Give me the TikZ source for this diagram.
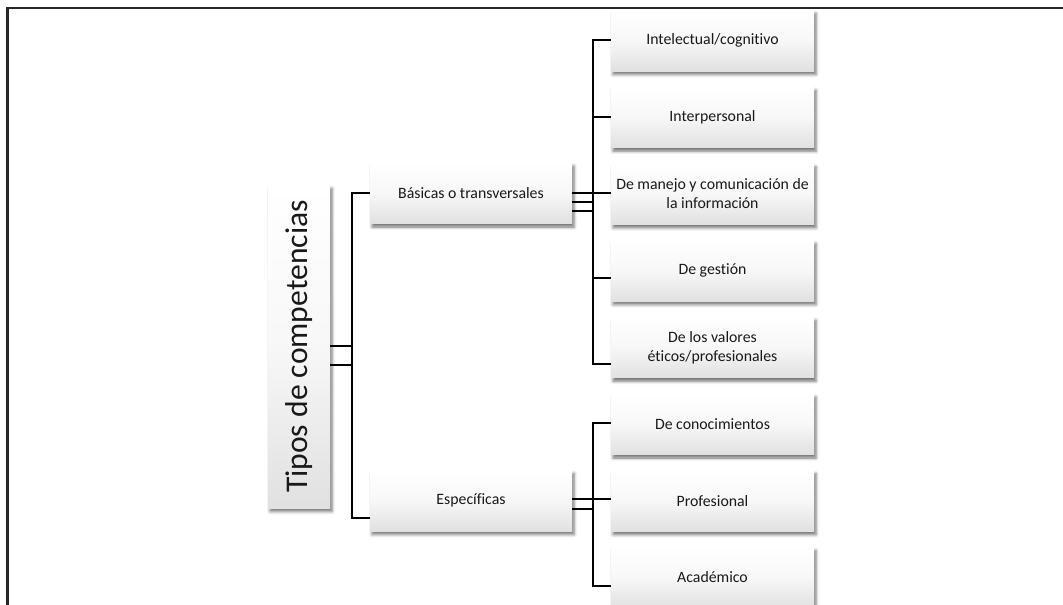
\documentclass[tikz,border=0pt]{standalone}
\usepackage{fontspec}
\setmainfont{Carlito}[Ligatures=NoCommon]
\usepackage{graphicx}
\usetikzlibrary{shadows.blur}

\tikzset{
  card/.style={
    rectangle, inner sep=0pt, align=center, text=black!90,
    top color=white, bottom color=black!12, middle color=white!97!black,
    blur shadow={shadow xshift=2pt, shadow yshift=-3.5pt,
                 shadow blur radius=3pt, shadow opacity=55},
    font=\fontsize{15.8}{19}\selectfont
  },
  leaf/.style={card, minimum width=203pt, minimum height=61pt},
  mid/.style={card, minimum width=202pt, minimum height=61pt},
  conn/.style={draw=black, line width=2.2pt}
}

\begin{document}
\begin{tikzpicture}[x=1pt, y=-1pt]
  \useasboundingbox (0,0) rectangle (1063,605);
  \clip (0,0) rectangle (1063,605);

  % page frame
  \draw[black!85, line width=2.2pt] (7.5,605) -- (7.5,8) -- (1063,8);

  % root
  \node[card, minimum width=62pt, minimum height=323pt] (root) at (299,346.5)
    {\fontsize{31.6}{38}\selectfont\rotatebox{90}{Tipos de competencias}};

  % first level
  \node[mid] (bas) at (471,193)   {Básicas o transversales};
  \node[mid] (esp) at (471,500.5) {Específicas};

  % second level
  \node[leaf] (int)   at (712.5,40.5)  {Intelectual/cognitivo};
  \node[leaf] (inter) at (712.5,117.2) {Interpersonal};
  \node[leaf] (man)   at (712.5,193.9) {De manejo y comunicación de\\la información};
  \node[leaf] (ges)   at (712.5,270.6) {De gestión};
  \node[leaf] (val)   at (712.5,347.3) {De los valores\\éticos/profesionales};
  \node[leaf] (con)   at (712.5,424)   {De conocimientos};
  \node[leaf] (pro)   at (712.5,500.7) {Profesional};
  \node[leaf] (aca)   at (712.5,577.4) {Académico};

  % root to first level
  \draw[conn] (bas.west) -| ([yshift=-17.5pt,xshift=-18pt]esp.west) -- ([yshift=-17.5pt]esp.west);
  \foreach \s in {0.5,-18.5}
    \draw[conn] ([yshift=\s pt]root.east) -- ++(22,0);

  % Básicas to its children
  \draw[conn] ([yshift=0.5pt]int.west) -| ([yshift=-16.5pt,xshift=-18pt]val.west) -- ([yshift=-16.5pt]val.west);
  \foreach \n/\s in {inter/0, man/1, ges/-7.5}
    \draw[conn] ([yshift=\s pt]\n.west) -- ++(-18,0);
  \foreach \s in {0,-9,-18}
    \draw[conn] ([yshift=\s pt]bas.east) -- ++(21,0);

  % Específicas to its children
  \draw[conn] ([yshift=1pt]con.west) -| ([yshift=-8.5pt,xshift=-18pt]aca.west) -- ([yshift=-8.5pt]aca.west);
  \draw[conn] ([yshift=1.5pt]pro.west) -- ++(-18,0);
  \foreach \s in {1.5,-8.5}
    \draw[conn] ([yshift=\s pt]esp.east) -- ++(21,0);
\end{tikzpicture}
\end{document}
